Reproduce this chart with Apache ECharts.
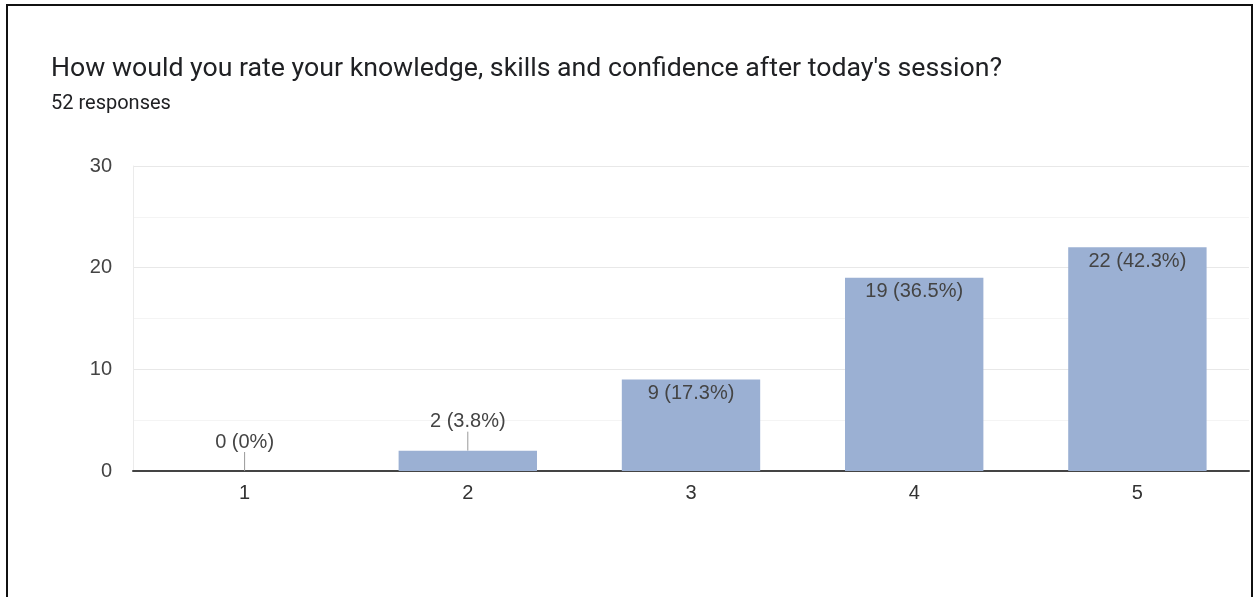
<!DOCTYPE html>
<html>
<head>
<meta charset="utf-8">
<script src="https://cdn.jsdelivr.net/npm/echarts@6/dist/echarts.min.js"></script>
<style>
  html, body { margin: 0; padding: 0; background: #fff; }
  #chart { width: 1253px; height: 597px; }
  .frame {
    position: absolute; left: 6px; top: 4px; width: 1243px; height: 600px;
    border: 2px solid #111; border-bottom: none; pointer-events: none;
  }
</style>
</head>
<body>
<div id="chart"></div>
<div class="frame"></div>
<script>
const categories = ['1', '2', '3', '4', '5']
const counts = [0, 2, 9, 19, 22]
const percents = ['0%', '3.8%', '17.3%', '36.5%', '42.3%']
const yTicks = [0, 10, 20, 30]

const chart = echarts.init(document.getElementById('chart'))

const labelFont = '"Liberation Sans", Arial, sans-serif'

// small bars get their label above, with a short guide line
const barData = counts.map((v, i) => {
  const item = { value: v }
  if (v < 5) {
    item.label = { position: 'top', distance: 4 }
  }
  return item
})

const option = {
  animation: false,
  title: {
    text: "How would you rate your knowledge, skills and confidence after today's session?",
    subtext: '52 responses',
    left: 46,
    top: 51,
    itemGap: 11,
    textStyle: { fontFamily: 'Roboto', fontSize: 26.7, fontWeight: 'normal', color: '#202124' },
    subtextStyle: { fontFamily: 'Roboto', fontSize: 20, color: '#202124' }
  },
  grid: { left: 133, right: 4, top: 166, bottom: 126 },
  xAxis: {
    type: 'category',
    data: categories,
    axisTick: { show: false },
    axisLine: { lineStyle: { color: '#444', width: 2 } },
    axisLabel: { fontFamily: labelFont, fontSize: 20, color: '#333', margin: 12 }
  },
  yAxis: {
    type: 'value',
    min: yTicks[0],
    max: yTicks[yTicks.length - 1],
    interval: 10,
    axisLine: { show: true, lineStyle: { color: '#ebebeb' } },
    axisTick: { show: false },
    axisLabel: { fontFamily: labelFont, fontSize: 20, color: '#444', margin: 21 },
    splitLine: { lineStyle: { color: '#e8e8e8' } },
    minorSplitLine: { show: true, lineStyle: { color: '#f4f4f4' } },
    minorTick: { splitNumber: 2 }
  },
  series: [{
    type: 'bar',
    data: barData,
    barCategoryGap: '38%',
    itemStyle: { color: '#9BB0D3' },
    label: {
      show: true,
      position: 'insideTop',
      distance: 4,
      fontFamily: labelFont,
      fontSize: 20,
      color: '#444',
      formatter: p => `${p.value} (${percents[p.dataIndex]})`
    },
    labelLayout: p => (counts[p.dataIndex] < 5 ? { dy: -15 } : {}),
    labelLine: { show: true, lineStyle: { color: '#999', width: 1 } }
  }]
}

chart.setOption(option)
</script>
</body>
</html>
